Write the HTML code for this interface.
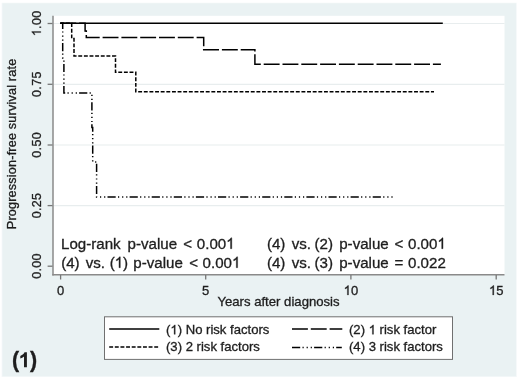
<!DOCTYPE html>
<html><head><meta charset="utf-8">
<style>
html,body{margin:0;padding:0;background:#fff;}
body{width:520px;height:379px;overflow:hidden;position:relative;}
svg{position:absolute;left:0;top:0;display:block;will-change:transform;}
text{font-family:"Liberation Sans",sans-serif;fill:#1e1e1e;stroke:#1e1e1e;stroke-width:0.32px;}
.h{fill-opacity:0;stroke-opacity:0;}
</style></head><body>
<svg width="520" height="379" viewBox="0 0 520 379">
  <rect x="1.6" y="2.7" width="515.2" height="374.3" fill="#f4f8f9"/>
  <rect x="2.4" y="3.3" width="513.6" height="372.9" fill="#eaf2f3"/>
  <rect x="53" y="15.8" width="451.5" height="259" fill="#ffffff"/>
  <g stroke="#e8edee" stroke-width="1.2">
    <line x1="53.5" y1="23.5" x2="504.5" y2="23.5"/>
    <line x1="53.5" y1="84.3" x2="504.5" y2="84.3"/>
    <line x1="53.5" y1="145.0" x2="504.5" y2="145.0"/>
    <line x1="53.5" y1="205.6" x2="504.5" y2="205.6"/>
  </g>
  <g stroke="#8a8a8a" stroke-width="1.5" fill="none">
    <line x1="53.0" y1="15.8" x2="53.0" y2="275.5"/>
    <line x1="52.25" y1="274.8" x2="504.5" y2="274.8"/>
  </g>
  <g stroke="#777777" stroke-width="1.3" fill="none">
    <line x1="47.6" y1="23.5" x2="52.5" y2="23.5"/>
    <line x1="47.6" y1="84.3" x2="52.5" y2="84.3"/>
    <line x1="47.6" y1="145.0" x2="52.5" y2="145.0"/>
    <line x1="47.6" y1="205.6" x2="52.5" y2="205.6"/>
    <line x1="47.6" y1="266.2" x2="52.5" y2="266.2"/>
    <line x1="60.6" y1="275" x2="60.6" y2="279.5"/>
    <line x1="205.7" y1="275" x2="205.7" y2="279.5"/>
    <line x1="350.9" y1="275" x2="350.9" y2="279.5"/>
    <line x1="496.2" y1="275" x2="496.2" y2="279.5"/>
  </g>
  <g fill="none" stroke="#000" stroke-width="1.5">
    <path d="M60.3 23.3H442.8"/>
    <path d="M60.3 23.3H85.1V31.1H86.3V37.4H203.7V49.7H254.9V64.3H440.9" stroke-dasharray="15.9 2.9"/>
    <path d="M60.3 23.3H71.7V38.6H74.0V56.0H115.5V72.3H135.8V91.8H434.0" stroke-dasharray="3.9 1.73"/>
    <path d="M60.3 23.3H62.7V58.1H63.9V92.9H91.9V127.4H92.7V161.9H96.6V197.1H393.8" stroke-dasharray="8.2 2.3 1.2 2.9 1.2 2.9 1.2 2.2"/>
  </g>
  <rect x="104.5" y="316.8" width="348" height="42.6" fill="#fff" stroke="#707070" stroke-width="1"/>
  <g fill="none" stroke="#000" stroke-width="1.5">
    <line x1="109.2" y1="329" x2="159.3" y2="329"/>
    <line x1="109.2" y1="347.1" x2="158.4" y2="347.1" stroke-dasharray="3.9 1.73"/>
    <line x1="292" y1="329" x2="342.3" y2="329" stroke-dasharray="15.9 2.9"/>
    <line x1="292" y1="347.4" x2="341.8" y2="347.4" stroke-dasharray="8.2 2.3 1.2 2.9 1.2 2.9 1.2 2.2"/>
  </g>
  <text id="t0" x="0" y="0" transform="translate(40.8 23.5) rotate(-90)" font-size="12.5" text-anchor="middle" textLength="25.3"><tspan class="h">1</tspan>.00</text>
  <text id="t1" x="0" y="0" transform="translate(40.8 84.3) rotate(-90)" font-size="12.5" text-anchor="middle" textLength="25.3">0.75</text>
  <text id="t2" x="0" y="0" transform="translate(40.8 145.0) rotate(-90)" font-size="12.5" text-anchor="middle" textLength="25.3">0.50</text>
  <text id="t3" x="0" y="0" transform="translate(40.8 205.6) rotate(-90)" font-size="12.5" text-anchor="middle" textLength="25.3">0.25</text>
  <text id="t4" x="0" y="0" transform="translate(40.8 266.2) rotate(-90)" font-size="12.5" text-anchor="middle" textLength="25.3">0.00</text>
  <text id="t5" x="0" y="0" transform="translate(15.9 144.0) rotate(-90)" font-size="12.6" text-anchor="middle" textLength="170.4">Progression-free survival rate</text>
  <text id="t6" x="60.6" y="294.9" font-size="13" text-anchor="middle">0</text>
  <text id="t7" x="205.7" y="294.9" font-size="13" text-anchor="middle">5</text>
  <text id="t8" x="350.9" y="294.9" font-size="13" text-anchor="middle"><tspan class="h">1</tspan>0</text>
  <text id="t9" x="496.2" y="294.9" font-size="13" text-anchor="middle"><tspan class="h">1</tspan>5</text>
  <text id="t10" x="278.5" y="306.4" font-size="13.15" text-anchor="middle">Years after diagnosis</text>
  <text id="t11" x="61.06" y="248.7" font-size="15.1">Log-rank</text>
  <text id="t12" x="127.53" y="248.7" font-size="15.1">p-value</text>
  <text id="t13" x="183.36" y="248.7" font-size="15.1">&lt;</text>
  <text id="t14" x="196.81" y="248.7" font-size="15.1">0.00<tspan class="h">1</tspan></text>
  <text id="t15" x="61.16" y="267.7" font-size="15.1">(4)</text>
  <text id="t16" x="85.65" y="267.7" font-size="15.1">vs.</text>
  <text id="t17" x="109.66" y="267.7" font-size="15.1">(<tspan class="h">1</tspan>)</text>
  <text id="t18" x="133.33" y="267.7" font-size="15.1">p-value</text>
  <text id="t19" x="189.16" y="267.7" font-size="15.1">&lt;</text>
  <text id="t20" x="202.61" y="267.7" font-size="15.1">0.00<tspan class="h">1</tspan></text>
  <text id="t21" x="266.96" y="248.7" font-size="15.1">(4)</text>
  <text id="t22" x="291.65" y="248.7" font-size="15.1">vs.</text>
  <text id="t23" x="314.56" y="248.7" font-size="15.1">(2)</text>
  <text id="t24" x="339.23" y="248.7" font-size="15.1">p-value</text>
  <text id="t25" x="394.56" y="248.7" font-size="15.1">&lt;</text>
  <text id="t26" x="408.01" y="248.7" font-size="15.1">0.00<tspan class="h">1</tspan></text>
  <text id="t27" x="266.96" y="267.7" font-size="15.1">(4)</text>
  <text id="t28" x="291.65" y="267.7" font-size="15.1">vs.</text>
  <text id="t29" x="314.56" y="267.7" font-size="15.1">(3)</text>
  <text id="t30" x="339.23" y="267.7" font-size="15.1">p-value</text>
  <text id="t31" x="394.56" y="267.7" font-size="15.1">=</text>
  <text id="t32" x="408.01" y="267.7" font-size="15.1">0.022</text>
  <text id="t33" x="166" y="334.3" font-size="13.1">(<tspan class="h">1</tspan>) No risk factors</text>
  <text id="t34" x="166" y="351.2" font-size="13.1">(3) 2 risk factors</text>
  <text id="t35" x="349" y="334.3" font-size="13.1">(2) <tspan class="h">1</tspan> risk factor</text>
  <text id="t36" x="349" y="351.2" font-size="13.1">(4) 3 risk factors</text>
  <g fill="#1e1e1e" stroke="#1e1e1e" stroke-width="48.5">
  <path transform="translate(40.8 23.5) rotate(-90) translate(-12.65 0.00) scale(0.006104 -0.006104)" d="M763 0L583 0L583 1147C540 1106 483 1065 413 1024C343 983 280 953 223 933L223 1107C323 1154 410 1211 485 1278C560 1345 613 1410 644 1472L763 1472Z"/>
  <path transform="translate(343.67 294.90) scale(0.006348 -0.006348)" d="M763 0L583 0L583 1147C540 1106 483 1065 413 1024C343 983 280 953 223 933L223 1107C323 1154 410 1211 485 1278C560 1345 613 1410 644 1472L763 1472Z"/>
  <path transform="translate(488.97 294.90) scale(0.006348 -0.006348)" d="M763 0L583 0L583 1147C540 1106 483 1065 413 1024C343 983 280 953 223 933L223 1107C323 1154 410 1211 485 1278C560 1345 613 1410 644 1472L763 1472Z"/>
  <path transform="translate(226.18 248.70) scale(0.007373 -0.007373)" d="M763 0L583 0L583 1147C540 1106 483 1065 413 1024C343 983 280 953 223 933L223 1107C323 1154 410 1211 485 1278C560 1345 613 1410 644 1472L763 1472Z"/>
  <path transform="translate(114.68 267.70) scale(0.007373 -0.007373)" d="M763 0L583 0L583 1147C540 1106 483 1065 413 1024C343 983 280 953 223 933L223 1107C323 1154 410 1211 485 1278C560 1345 613 1410 644 1472L763 1472Z"/>
  <path transform="translate(231.99 267.70) scale(0.007373 -0.007373)" d="M763 0L583 0L583 1147C540 1106 483 1065 413 1024C343 983 280 953 223 933L223 1107C323 1154 410 1211 485 1278C560 1345 613 1410 644 1472L763 1472Z"/>
  <path transform="translate(437.39 248.70) scale(0.007373 -0.007373)" d="M763 0L583 0L583 1147C540 1106 483 1065 413 1024C343 983 280 953 223 933L223 1107C323 1154 410 1211 485 1278C560 1345 613 1410 644 1472L763 1472Z"/>
  <path transform="translate(170.36 334.30) scale(0.006396 -0.006396)" d="M763 0L583 0L583 1147C540 1106 483 1065 413 1024C343 983 280 953 223 933L223 1107C323 1154 410 1211 485 1278C560 1345 613 1410 644 1472L763 1472Z"/>
  <path transform="translate(368.64 334.30) scale(0.006396 -0.006396)" d="M763 0L583 0L583 1147C540 1106 483 1065 413 1024C343 983 280 953 223 933L223 1107C323 1154 410 1211 485 1278C560 1345 613 1410 644 1472L763 1472Z"/>
  </g>
  <g font-size="21.4" font-weight="bold">
    <text x="11.9" y="367.4">(</text>
    <text x="29.9" y="367.4">)</text>
  </g>
  <path transform="translate(18.9 367.3) scale(0.010254 -0.010254)" fill="#1e1e1e" d="M780 0L499 0L499 1059Q345 915 136 847L136 1102Q246 1138 374 1238Q502 1338 549 1466L780 1466Z"/>
</svg>
</body></html>
